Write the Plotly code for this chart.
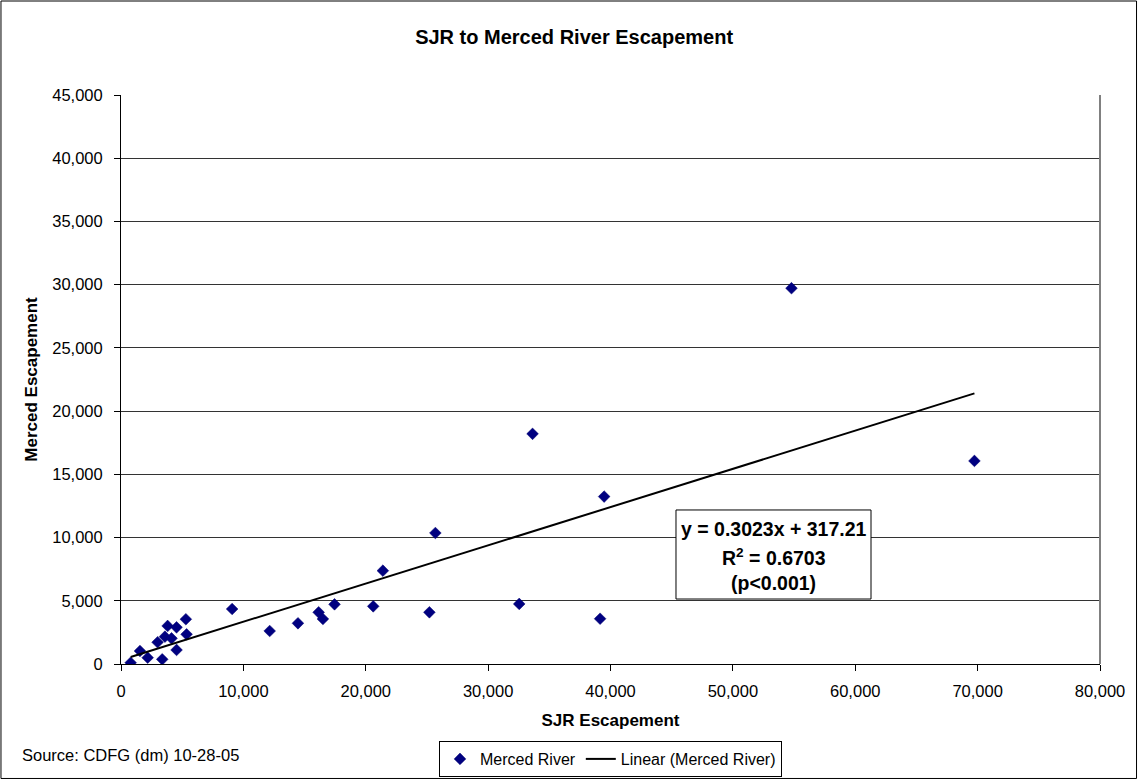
import plotly.graph_objects as go

# SJR vs Merced River escapement (fish counts)
sjr_escapement = [790, 1550, 2180, 3370, 2990, 3590, 3810, 4130, 4540, 4540,
                  5300, 5360, 9080, 12150, 14460, 16150, 16500, 17450, 20610,
                  21400, 25200, 25690, 32540, 33630, 39150, 39480, 54790, 69740]
merced_escapement = [100, 1030, 500, 370, 1720, 2160, 3010, 2030, 2900, 1110,
                     3540, 2350, 4350, 2610, 3220, 4090, 3560, 4720, 4560,
                     7380, 4090, 10360, 4750, 18200, 3580, 13240, 29720, 16060]

# Linear fit coefficients reported on the chart
slope = 0.3023
intercept = 317.21
fit_text = ["y = 0.3023x + 317.21", "R<sup>2</sup> = 0.6703", "(p<0.001)"]

x_ticks = list(range(0, 80001, 10000))
y_ticks = list(range(0, 45001, 5000))

FONT = "Arial, Liberation Sans, sans-serif"

fit_x = [min(sjr_escapement), max(sjr_escapement)]
fit_y = [slope * v + intercept for v in fit_x]

fig = go.Figure()
fig.add_trace(go.Scatter(
    x=sjr_escapement, y=merced_escapement, mode="markers", name="Merced River",
    marker=dict(symbol="diamond", size=9, color="#000080",
                line=dict(color="#000070", width=0.5)),
))
fig.add_trace(go.Scatter(
    x=fit_x, y=fit_y, mode="lines", name="Linear (Merced River)",
    line=dict(color="black", width=2),
))

fig.update_layout(
    width=1138, height=780,
    margin=dict(l=121, r=38, t=95, b=116, autoexpand=False),
    paper_bgcolor="white", plot_bgcolor="white",
    font=dict(family=FONT, size=16.5, color="black"),
    title=dict(text="<b>SJR to Merced River Escapement</b>",
               font=dict(size=20, family=FONT),
               x=0.5045, xanchor="center", y=1 - 37 / 780, yanchor="middle"),
    showlegend=True,
    legend=dict(orientation="h", x=0.5, xanchor="center",
                yref="container", y=1 - 741 / 780, yanchor="top",
                bordercolor="black", borderwidth=1, bgcolor="white",
                font=dict(size=16, family=FONT)),
)

fig.update_xaxes(
    range=[0, 80000], tickvals=x_ticks, tickformat=",",
    showgrid=False, zeroline=False,
    showline=True, linecolor="black", linewidth=1,
    ticks="outside", ticklen=6, tickcolor="black", ticklabelstandoff=6,
    automargin=False,
    title=dict(text="<b>SJR Escapement</b>", font=dict(size=17, family=FONT), standoff=15),
)
fig.update_yaxes(
    range=[0, 45000], tickvals=y_ticks, tickformat=",",
    showgrid=True, gridcolor="#333333", gridwidth=1, zeroline=False,
    showline=True, linecolor="black", linewidth=1,
    ticks="outside", ticklen=6, tickcolor="black", ticklabelstandoff=8,
    automargin=False,
    title=dict(text="<b>Merced Escapement</b>", font=dict(size=17, family=FONT), standoff=10),
)

# right edge of plot area and outer chart frame
fig.add_shape(type="line", xref="paper", yref="paper", x0=1, x1=1, y0=0, y1=1,
              line=dict(color="#808080", width=2))
fig.add_shape(type="rect", xref="paper", yref="paper",
              x0=-0.1226, x1=1.0373, y0=-0.2012, y1=1.1652,
              line=dict(color="black", width=1))

# regression equation box
fig.add_shape(type="rect", xref="paper", yref="paper",
              x0=0.5669, x1=0.7661, y0=0.1142, y1=0.2707,
              line=dict(color="black", width=1), fillcolor="white", layer="above")
for txt, yy in zip(fit_text, [0.2373, 0.188, 0.1424]):
    fig.add_annotation(text=f"<b>{txt}</b>", xref="paper", yref="paper",
                       x=0.667, y=yy, xanchor="center", yanchor="middle",
                       showarrow=False, font=dict(size=19.5, family=FONT))

fig.add_annotation(text="Source: CDFG (dm) 10-28-05", xref="paper", yref="paper",
                   x=-0.1032, y=-0.16, xanchor="left", yanchor="middle",
                   showarrow=False, font=dict(size=16.5, family=FONT))

fig.write_html("out.html")
